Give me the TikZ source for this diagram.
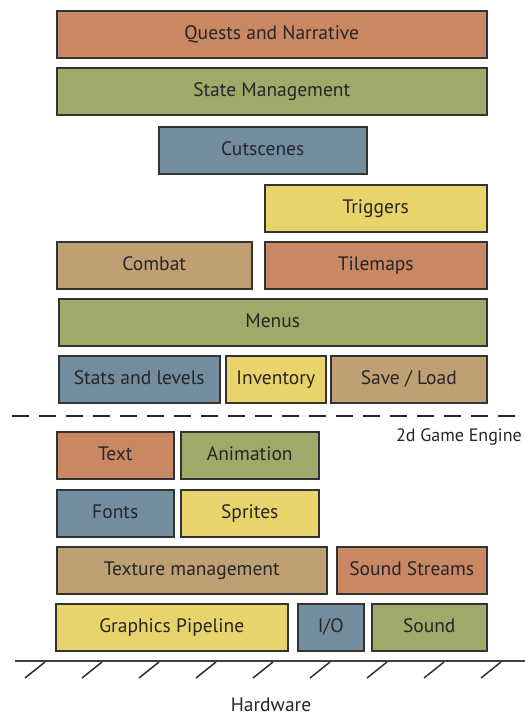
\documentclass[tikz,border=0pt]{standalone}
\usepackage{fontspec}
\setmainfont{PT Sans}
\definecolor{cor}{HTML}{C98763}
\definecolor{cgr}{HTML}{A0A86A}
\definecolor{cbl}{HTML}{738D9F}
\definecolor{cye}{HTML}{E8D46A}
\definecolor{cta}{HTML}{BFA074}
\tikzset{
  blk/.style={draw=black!80, line width=1.5pt, font=\fontsize{19.5}{22}\selectfont, text=black!85, text height=13pt, text depth=3pt},
  lbl/.style={font=\fontsize{18}{21}\selectfont, text=black!85},
}
\begin{document}
\begin{tikzpicture}[x=1pt,y=-1pt]
\useasboundingbox (0,0) rectangle (525,716);
\def\B#1#2#3#4#5#6#7{\node[blk, fill=#6, minimum width={(#4-#2)*1pt}, minimum height={(#5-#3)*1pt}, anchor=north west, inner sep=0pt] (#1) at (#2,#3) {#7};}
\B{quests}{56}{10}{486}{57}{cor}{Quests and Narrative}
\B{state}{56}{67}{486}{114}{cgr}{State Management}
\B{cut}{158}{126}{366}{173}{cbl}{Cutscenes}
\B{trig}{264}{184}{486}{231}{cye}{Triggers}
\B{combat}{56}{241}{251}{288}{cta}{Combat}
\B{tile}{264}{241}{486}{288}{cor}{Tilemaps}
\B{menus}{58}{298}{486}{345}{cgr}{Menus}
\B{stats}{58}{355}{219}{402}{cbl}{Stats and levels}
\B{inv}{225}{355}{325}{402}{cye}{Inventory}
\B{save}{330}{355}{486}{402}{cta}{Save / Load}
\coordinate (dl) at (12,416);
\coordinate (dr) at (525,416);
\draw[line width=1.5pt, dash pattern=on 17pt off 10pt, black!85] (dl) -- (dr);
\node[lbl, anchor=north east, inner sep=0pt] (eng) at (522,428) {2d Game Engine};
\B{text}{56}{431}{173}{478}{cor}{Text}
\B{anim}{180}{431}{318}{478}{cgr}{Animation}
\B{fonts}{56}{489}{173}{536}{cbl}{Fonts}
\B{spr}{180}{489}{318}{536}{cye}{Sprites}
\B{tex}{56}{546}{326}{593}{cta}{Texture management}
\B{ss}{336}{546}{486}{593}{cor}{Sound Streams}
\B{gp}{55}{603}{287}{650}{cye}{Graphics Pipeline}
\B{io}{297}{603}{363}{650}{cbl}{I/O}
\B{snd}{371}{603}{486}{650}{cgr}{Sound}
\coordinate (gl) at (15,661);
\coordinate (gr) at (525,661);
\draw[line width=1.5pt, black!75] (gl) -- (gr);
\foreach \i in {0,...,8} {
  \draw[line width=1.5pt, black!80] (25+57*\i,678) -- (45+57*\i,662);
}
\node[font=\fontsize{19.5}{22}\selectfont, text=black!85, anchor=base, inner sep=0pt] (hw) at (271,711) {Hardware};
\end{tikzpicture}
\end{document}
